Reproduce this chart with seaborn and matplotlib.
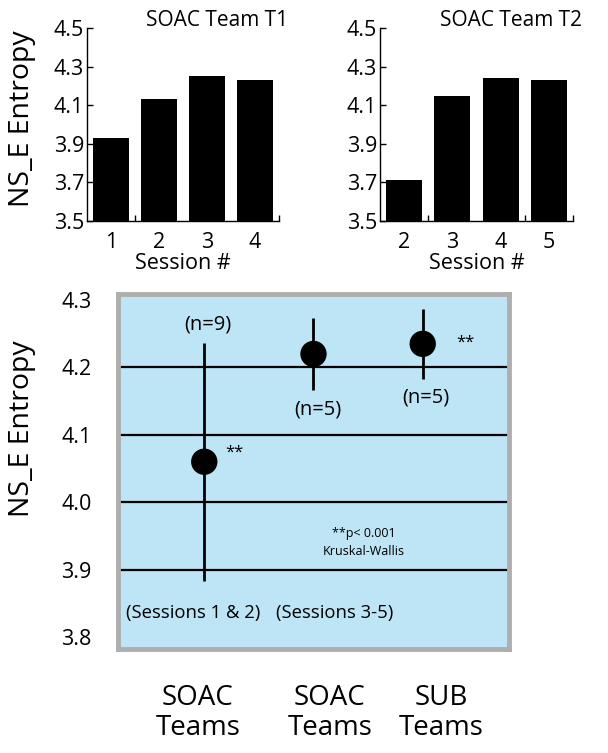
import matplotlib
matplotlib.use("Agg")
import matplotlib.pyplot as plt
import matplotlib.transforms as mtransforms
import seaborn as sns
import numpy as np

# ---------------- data ----------------
t1_sessions = ["1", "2", "3", "4"]
t1_values = [3.93, 4.13, 4.25, 4.23]
t2_sessions = ["2", "3", "4", "5"]
t2_values = [3.71, 4.15, 4.24, 4.23]

top_yticks = [3.5, 3.7, 3.9, 4.1, 4.3, 4.5]

groups = ["SOAC\nTeams", "SOAC\nTeams", "SUB\nTeams"]
group_means = [4.06, 4.22, 4.235]
group_err = [0.177, 0.053, 0.052]
group_n = ["(n=9)", "(n=5)", "(n=5)"]
bottom_yticks = [3.8, 3.9, 4.0, 4.1, 4.2, 4.3]

sns.set_theme(style="white")
plt.rcParams['font.family'] = ['Open Sans', 'DejaVu Sans']
plt.rcParams.update({"text.color": "black", "axes.labelcolor": "black",
                     "xtick.color": "black", "ytick.color": "black"})

W, H = 608, 753
fig = plt.figure(figsize=(W / 100, H / 100), dpi=100)


def fr(x0, y_top, x1, y_bot):
    return [x0 / W, 1 - y_bot / H, (x1 - x0) / W, (y_bot - y_top) / H]


ax1 = fig.add_axes(fr(87, 28, 279, 221))
ax2 = fig.add_axes(fr(380, 28, 573, 221))
ax3 = fig.add_axes(fr(118, 294, 509, 649))

TICK_FS = 15.5


def top_panel(ax, sessions, values, title, minor):
    sns.barplot(x=sessions, y=values, color="black", saturation=1,
                width=0.75, ax=ax, edgecolor="none")
    ax.set_xlim(-0.5, len(sessions) - 0.5)
    ax.set_ylim(3.5, 4.5)
    ax.set_yticks(top_yticks)
    ax.set_yticklabels([f"{v:.1f}" for v in top_yticks])
    for s in ["top", "right"]:
        ax.spines[s].set_visible(False)
    for s in ["left", "bottom"]:
        ax.spines[s].set_color("black")
        ax.spines[s].set_linewidth(1.0)
    ax.tick_params(axis="y", direction="in", length=4, width=1,
                   labelsize=TICK_FS, pad=2, left=True)
    ax.tick_params(axis="x", length=0, labelsize=TICK_FS, pad=8)
    ax.set_xticks(minor, minor=True)
    ax.tick_params(axis="x", which="minor", direction="in", length=4,
                   width=1, bottom=True, color="black")
    ax.set_xlabel("Session #", fontsize=15.5, labelpad=0)
    ax.set_ylabel("")
    ax.text(1.045, 1.04, title, transform=ax.transAxes, ha="right",
            va="center", fontsize=15)
    ax.set_facecolor("white")


top_panel(ax1, t1_sessions, t1_values, "SOAC Team T1", [0.5, 3.5])
top_panel(ax2, t2_sessions, t2_values, "SOAC Team T2", [0.5, 2.5, 3.5])

fig.text(22 / W, 1 - 119 / H, "NS_E Entropy", rotation=90, ha="center",
         va="center", fontsize=20.5)
fig.text(22 / W, 1 - 429 / H, "NS_E Entropy", rotation=90, ha="center",
         va="center", fontsize=20.5)

# ---------------- bottom panel ----------------
ax3.set_facecolor("#bee5f5")
xpos = np.arange(1, len(groups) + 1)
ax3.set_xlim(0.21, 3.79)
ax3.set_ylim(3.782, 4.309)
for s in ax3.spines.values():
    s.set_visible(True)
    s.set_color("#aeaeae")
    s.set_linewidth(3.5)
for v in [3.9, 4.0, 4.1, 4.2]:
    ax3.axhline(v, color="black", lw=1.6, zorder=1)
ax3.vlines(xpos, np.array(group_means) - np.array(group_err),
           np.array(group_means) + np.array(group_err), color="black",
           lw=2.0, zorder=2)
sns.scatterplot(x=xpos, y=group_means, s=360, color="black",
                edgecolor="none", ax=ax3, zorder=3)
ax3.set_yticks(bottom_yticks)
ax3.set_yticklabels([f"{v:.1f}" for v in bottom_yticks])
ax3.tick_params(axis="y", length=0, labelsize=TICK_FS, pad=19)
ax3.set_xticks([])
ax3.set_xlabel("")
ax3.set_ylabel("")

# n annotations
ax3.text(1.03, 4.263, group_n[0], ha="center", va="center", fontsize=14.5)
ax3.text(2.04, 4.137, group_n[1], ha="center", va="center", fontsize=14.5)
ax3.text(3.03, 4.155, group_n[2], ha="center", va="center", fontsize=14.5)
ax3.text(1.19, 4.074, "**", ha="left", va="center", fontsize=12)
ax3.text(3.31, 4.237, "**", ha="left", va="center", fontsize=12)
ax3.text(2.46, 3.953, "**p< 0.001", ha="center", va="center", fontsize=9)
ax3.text(2.46, 3.926, "Kruskal-Wallis", ha="center", va="center",
         fontsize=9)
ax3.text(0.895, 3.836, "(Sessions 1 & 2)", ha="center", va="center",
         fontsize=13.3)
ax3.text(2.19, 3.836, "(Sessions 3-5)", ha="center", va="center",
         fontsize=13.3)

# group labels below the panel
blend = mtransforms.blended_transform_factory(ax3.transData, fig.transFigure)
for xg, lab in zip([0.94, 2.15, 3.17], groups):
    ax3.text(xg, 1 - 713 / H, lab, transform=blend, ha="center",
             va="center", fontsize=20, linespacing=1.12, clip_on=False)

fig.savefig("out.png", dpi=100)
